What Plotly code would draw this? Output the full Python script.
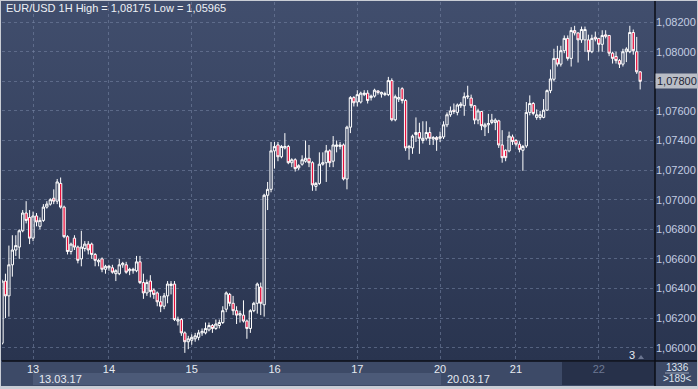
import base64
import plotly.graph_objects as go

# ---------------- data ----------------
opens = [
    1.0603, 1.0645, 1.0635, 1.0656, 1.0666, 1.0668, 1.0679, 1.0691, 1.0688, 1.0674,
    1.0689, 1.0682, 1.0686, 1.0695, 1.0697, 1.0701, 1.0699, 1.0711, 1.0695, 1.0675,
    1.0665, 1.0674, 1.0668, 1.0660, 1.0667, 1.0670, 1.0670, 1.0663, 1.0658, 1.0660,
    1.0653, 1.0654, 1.0654, 1.0650, 1.0650, 1.0656, 1.0656, 1.0652, 1.0652, 1.0652,
    1.0658, 1.0644, 1.0637, 1.0645, 1.0639, 1.0637, 1.0631, 1.0628, 1.0635, 1.0642,
    1.0643, 1.0618, 1.0619, 1.0610, 1.0604, 1.0605, 1.0606, 1.0607, 1.0610, 1.0610,
    1.0612, 1.0615, 1.0613, 1.0615, 1.0617, 1.0626, 1.0636, 1.0630, 1.0625, 1.0622,
    1.0622, 1.0618, 1.0613, 1.0625, 1.0630, 1.0641, 1.0629, 1.0703, 1.0707, 1.0733,
    1.0737, 1.0729, 1.0735, 1.0736, 1.0725, 1.0727, 1.07215, 1.0724, 1.0726, 1.0728,
    1.0725, 1.0709, 1.0711, 1.0724, 1.0725, 1.0733, 1.0726, 1.0736, 1.0736, 1.0737,
    1.0714, 1.0749, 1.0769, 1.0766, 1.0766, 1.0771, 1.0772, 1.0769, 1.0770, 1.07735,
    1.07714, 1.0771, 1.0771, 1.07805, 1.0754, 1.0768, 1.0775, 1.0767, 1.0735, 1.0735,
    1.0744, 1.07454, 1.0740, 1.07415, 1.07454, 1.0741, 1.0742, 1.07415, 1.07424, 1.07506,
    1.07574, 1.07605, 1.0759, 1.07635, 1.07635, 1.07695, 1.07687, 1.07635, 1.07538, 1.07596,
    1.07492, 1.07506, 1.07522, 1.07522, 1.07533, 1.0737, 1.07334, 1.0733, 1.07424, 1.0740,
    1.07375, 1.07334, 1.07363, 1.0759, 1.0765, 1.07556, 1.07556, 1.07556, 1.07605, 1.07737,
    1.07814, 1.07955, 1.07916, 1.08007, 1.0809, 1.07955, 1.08143, 1.08127, 1.0808, 1.0808,
    1.0808, 1.0800, 1.08098, 1.0809, 1.0805, 1.08114, 1.0811, 1.0799, 1.07968, 1.0794,
    1.07916, 1.0800, 1.0800, 1.0813, 1.0800, 1.07864,
]
highs = [
    1.0646, 1.0650, 1.0669, 1.0676, 1.0676, 1.0680, 1.0693, 1.0699, 1.0693, 1.0692,
    1.0691, 1.0688, 1.0697, 1.0699, 1.0701, 1.0707, 1.0714, 1.0715, 1.0696, 1.0676,
    1.0671, 1.0676, 1.0669, 1.0679, 1.0672, 1.0672, 1.0671, 1.0664, 1.0660, 1.0661,
    1.0656, 1.0656, 1.0656, 1.0653, 1.0660, 1.0658, 1.0658, 1.0654, 1.0654, 1.0662,
    1.0662, 1.0650, 1.0646, 1.0649, 1.0640, 1.0638, 1.0635, 1.0637, 1.0645, 1.0645,
    1.0645, 1.0621, 1.0620, 1.0611, 1.0608, 1.0609, 1.0610, 1.0612, 1.0613, 1.0617,
    1.0617, 1.0616, 1.0619, 1.0619, 1.0628, 1.0638, 1.0637, 1.0635, 1.0628, 1.0625,
    1.0632, 1.0619, 1.0626, 1.0631, 1.0644, 1.0644, 1.0704, 1.0712, 1.0739, 1.0739,
    1.0739, 1.0737, 1.0745, 1.0737, 1.0728, 1.0728, 1.0724, 1.0730, 1.0740, 1.0737,
    1.0726, 1.0712, 1.0732, 1.0732, 1.0737, 1.0734, 1.0743, 1.0740, 1.0739, 1.0738,
    1.0750, 1.0770, 1.0770, 1.0774, 1.0773, 1.0774, 1.0774, 1.0771, 1.0775, 1.0774,
    1.0773, 1.0773, 1.0783, 1.0782, 1.0771, 1.0776, 1.0776, 1.0768, 1.0737, 1.0744,
    1.07556, 1.0752, 1.0753, 1.0753, 1.0749, 1.0743, 1.0743, 1.0746, 1.0753, 1.0759,
    1.0763, 1.0765, 1.0765, 1.0766, 1.07725, 1.0777, 1.0771, 1.0764, 1.07615, 1.0760,
    1.0752, 1.0758, 1.0758, 1.0755, 1.0754, 1.0747, 1.0734, 1.0746, 1.0744, 1.0741,
    1.07395, 1.0737, 1.0766, 1.07705, 1.0766, 1.0761, 1.0760, 1.0768, 1.07745, 1.0788,
    1.0802, 1.0804, 1.0804, 1.0811, 1.0811, 1.08166, 1.08175, 1.0813, 1.0817, 1.0817,
    1.08115, 1.08115, 1.08136, 1.0809, 1.08145, 1.08145, 1.0811, 1.0800, 1.0800, 1.0795,
    1.0802, 1.0803, 1.08175, 1.0815, 1.0810, 1.0787,
]
lows = [
    1.0602, 1.0620, 1.0621, 1.0648, 1.0662, 1.0660, 1.0678, 1.0684, 1.0670, 1.0672,
    1.0682, 1.0680, 1.0685, 1.0694, 1.0696, 1.0697, 1.0697, 1.0694, 1.0674, 1.0663,
    1.0663, 1.0666, 1.0657, 1.0655, 1.0665, 1.0663, 1.0660, 1.0655, 1.0655, 1.0651,
    1.0650, 1.0652, 1.0650, 1.0645, 1.0649, 1.0654, 1.0650, 1.0649, 1.0650, 1.0651,
    1.0643, 1.0633, 1.0635, 1.0634, 1.0633, 1.0628, 1.0624, 1.0626, 1.0630, 1.0636,
    1.0618, 1.0615, 1.0608, 1.05965, 1.0599, 1.0602, 1.0604, 1.0605, 1.0608, 1.0609,
    1.0611, 1.0610, 1.0612, 1.0613, 1.0616, 1.0624, 1.0628, 1.0622, 1.0616, 1.0617,
    1.0617, 1.0606, 1.0610, 1.0624, 1.0623, 1.0622, 1.0621, 1.0693, 1.0705, 1.0721,
    1.0726, 1.0728, 1.0734, 1.0724, 1.0722, 1.0719, 1.0720, 1.0723, 1.0725, 1.0722,
    1.0706, 1.0706, 1.0710, 1.0723, 1.0712, 1.0722, 1.0722, 1.0732, 1.0734, 1.0713,
    1.0707, 1.0745, 1.0763, 1.0763, 1.0765, 1.0770, 1.0765, 1.0767, 1.0769, 1.0771,
    1.0769, 1.0770, 1.0770, 1.0753, 1.0753, 1.0766, 1.0765, 1.0733, 1.0727, 1.0731,
    1.0739, 1.0731, 1.0738, 1.0740, 1.0737, 1.0737, 1.0733, 1.0739, 1.0741, 1.0749,
    1.0756, 1.0758, 1.0757, 1.0762, 1.07567, 1.0768, 1.0762, 1.0751, 1.0751, 1.0747,
    1.0743, 1.0745, 1.0751, 1.0747, 1.0735, 1.0725, 1.0726, 1.0732, 1.0737, 1.0736,
    1.0732, 1.07195, 1.0735, 1.0757, 1.0757, 1.0754, 1.0754, 1.0755, 1.0760, 1.0772,
    1.0780, 1.0790, 1.0790, 1.0799, 1.0794, 1.0790, 1.0811, 1.07927, 1.0806, 1.0800,
    1.0794, 1.0799, 1.0807, 1.0800, 1.0800, 1.0809, 1.0797, 1.0792, 1.0792, 1.0789,
    1.0790, 1.0793, 1.0799, 1.0798, 1.0785, 1.07745,
]
closes = [
    1.0645, 1.0635, 1.0656, 1.0666, 1.0669, 1.0679, 1.0691, 1.0686, 1.0674, 1.0689,
    1.0685, 1.0686, 1.0695, 1.0697, 1.0700, 1.0699, 1.0712, 1.0695, 1.0675, 1.0665,
    1.0670, 1.0668, 1.0659, 1.0668, 1.0670, 1.0666, 1.0663, 1.0659, 1.0659, 1.0653,
    1.0655, 1.0655, 1.0651, 1.0652, 1.0656, 1.0657, 1.0651, 1.0653, 1.0653, 1.0658,
    1.0644, 1.0637, 1.0644, 1.0638, 1.0636, 1.0631, 1.0628, 1.0635, 1.0643, 1.0643,
    1.0619, 1.0619, 1.0610, 1.0604, 1.0606, 1.0607, 1.0608, 1.0610, 1.0611, 1.0613,
    1.0615, 1.0613, 1.0616, 1.0617, 1.0625, 1.0637, 1.0630, 1.0625, 1.0622, 1.0623,
    1.0618, 1.0613, 1.0625, 1.0630, 1.0643, 1.0630, 1.0703, 1.0707, 1.0733, 1.0736,
    1.0729, 1.0736, 1.0736, 1.0725, 1.0727, 1.0721, 1.0723, 1.0727, 1.0728, 1.0725,
    1.0710, 1.0711, 1.0724, 1.0725, 1.0733, 1.0725, 1.0737, 1.0737, 1.0737, 1.0714,
    1.0749, 1.0769, 1.07655, 1.0771, 1.0772, 1.0772, 1.0767, 1.0770, 1.0774, 1.07725,
    1.07725, 1.07716, 1.07805, 1.0754, 1.07696, 1.0769, 1.0767, 1.0735, 1.0736, 1.0743,
    1.07454, 1.07415, 1.07415, 1.07454, 1.07415, 1.0742, 1.07406, 1.07425, 1.07506, 1.07574,
    1.0760, 1.07596, 1.0764, 1.07646, 1.07696, 1.0770, 1.07635, 1.07538, 1.0760, 1.0750,
    1.07506, 1.07515, 1.07538, 1.07538, 1.0737, 1.07284, 1.07284, 1.0743, 1.07393, 1.07375,
    1.0734, 1.0736, 1.0759, 1.0765, 1.07583, 1.07574, 1.07574, 1.07605, 1.07737, 1.07816,
    1.07955, 1.07916, 1.08007, 1.0809, 1.07955, 1.08143, 1.08127, 1.0808, 1.0815, 1.0815,
    1.0800, 1.0809, 1.08086, 1.0805, 1.0811, 1.08105, 1.0799, 1.07955, 1.0794, 1.07916,
    1.0800, 1.08018, 1.0813, 1.08007, 1.07864, 1.0780,
]
bar_index = list(range(len(closes)))

# first bar of each trading day and its label
day_start_bars = [9, 31, 55, 79, 103, 127, 149, 173]
day_labels = ["13", "14", "15", "16", "17", "20", "21", "22"]
week_labels = ["13.03.17", "20.03.17"]
price_ticks = [1.060, 1.062, 1.064, 1.066, 1.068, 1.070, 1.072, 1.074, 1.076, 1.078, 1.080, 1.082]
title_text = "EUR/USD 1H High = 1,08175 Low = 1,05965"
last_price = 1.0780
last_price_text = "1,07800"
bars_total_text = "1336"
bars_visible_text = ">189<"

# ---------------- geometry helpers (pixels -> paper) ----------------
W, H = 698, 389
PL, PR, PT, PB = 2, 655, 2, 361
def px(x):
    return (x - PL) / (PR - PL)
def py(y):
    return (PB - y) / (PB - PT)

svg = ('<svg xmlns="http://www.w3.org/2000/svg" width="10" height="100" preserveAspectRatio="none">'
       '<defs><linearGradient id="g" x1="0" y1="0" x2="0" y2="1">'
       '<stop offset="0" stop-color="#414e6d"/><stop offset="1" stop-color="#29344f"/>'
       '</linearGradient></defs><rect width="10" height="100" fill="url(#g)"/></svg>')
svg_uri = "data:image/svg+xml;base64," + base64.b64encode(svg.encode()).decode()

fig = go.Figure()
fig.add_trace(go.Candlestick(
    x=bar_index, open=opens, high=highs, low=lows, close=closes,
    increasing=dict(line=dict(color="#ffffff", width=1), fillcolor="rgba(0,0,0,0)"),
    decreasing=dict(line=dict(color="#ffffff", width=1), fillcolor="#e8103c"),
    whiskerwidth=0, hoverinfo="skip", showlegend=False,
))

ticktext = [t if t != "22" else '<span style="color:#6d7893">22</span>' for t in day_labels]

grid = "rgba(120,135,165,0.55)"
fig.update_layout(
    width=W, height=H,
    margin=dict(l=PL, r=W - PR, t=PT, b=H - PB),
    paper_bgcolor="#c9cdd5",
    plot_bgcolor="rgba(0,0,0,0)",
    separators=", ",
    boxgap=0.05,
    font=dict(family="Liberation Sans, Arial, sans-serif", size=11, color="#e6eaf2"),
    showlegend=False,
    xaxis=dict(
        range=[0, 189.3], rangeslider=dict(visible=False),
        tickmode="array", tickvals=day_start_bars, ticktext=ticktext,
        showgrid=True, gridcolor=grid, griddash="3px,3px", gridwidth=1,
        zeroline=False, showline=False, ticks="",
        tickfont=dict(size=11, color="#e6eaf2"),
    ),
    yaxis=dict(
        range=[1.0591, 1.08336], side="right",
        tickmode="array", tickvals=price_ticks, tickformat=".5f",
        showgrid=True, gridcolor=grid, griddash="3px,3px", gridwidth=1,
        zeroline=False, showline=False, ticks="",
        tickfont=dict(size=11, color="#c3cde2"),
    ),
    images=[dict(source=svg_uri, xref="paper", yref="paper",
                 x=px(1), y=py(1), sizex=px(697) - px(1), sizey=py(1) - py(361),
                 sizing="stretch", layer="below", xanchor="left", yanchor="top")],
)

shapes = []
# bottom time strip
shapes.append(dict(type="rect", xref="paper", yref="paper", x0=px(1), x1=px(697), y0=py(386), y1=py(361),
                   fillcolor="#3d4a67", line=dict(width=0), layer="below"))
shapes.append(dict(type="rect", xref="paper", yref="paper", x0=px(33), x1=px(441), y0=py(385), y1=py(373),
                   fillcolor="#4c5a78", line=dict(width=0), layer="below"))
shapes.append(dict(type="rect", xref="paper", yref="paper", x0=px(562), x1=px(655), y0=py(385), y1=py(362),
                   fillcolor="#27314a", line=dict(width=0), layer="below"))
# separators
shapes.append(dict(type="line", xref="paper", yref="paper", x0=px(655), x1=px(655), y0=py(386), y1=py(1),
                   line=dict(color="#0b0e16", width=1.5)))
shapes.append(dict(type="line", xref="paper", yref="paper", x0=px(2), x1=px(697), y0=py(361), y1=py(361),
                   line=dict(color="#0b0e16", width=1.5)))
# underline in counter box
shapes.append(dict(type="line", xref="paper", yref="paper", x0=px(665), x1=px(689), y0=py(373), y1=py(373),
                   line=dict(color="#9aa4b8", width=1)))
# last price arrow
dy = 0.00022
shapes.append(dict(type="path", xref="paper", yref="y",
                   path=f"M {px(655.5)},{last_price} L {px(659)},{last_price + dy} L {px(659)},{last_price - dy} Z",
                   fillcolor="#b9bdc6", line=dict(width=0)))
# small marker near "3"
shapes.append(dict(type="path", xref="paper", yref="paper",
                   path=f"M {px(638)},{py(359)} L {px(644)},{py(359)} L {px(641)},{py(355)} Z",
                   fillcolor="#6b7590", line=dict(width=0)))
fig.update_layout(shapes=shapes)

ann = []
ann.append(dict(text=title_text, xref="paper", yref="paper", x=px(4), y=py(8),
                xanchor="left", yanchor="middle", showarrow=False,
                font=dict(size=11, color="#eef1f6")))
ann.append(dict(text=week_labels[0], xref="paper", yref="paper", x=px(37), y=py(379),
                xanchor="left", yanchor="middle", showarrow=False, font=dict(size=11, color="#e6eaf2")))
ann.append(dict(text=week_labels[1], xref="paper", yref="paper", x=px(445), y=py(379),
                xanchor="left", yanchor="middle", showarrow=False, font=dict(size=11, color="#e6eaf2")))
ann.append(dict(text=bars_total_text, xref="paper", yref="paper", x=px(677), y=py(367),
                xanchor="center", yanchor="middle", showarrow=False, font=dict(size=10, color="#dfe4ee")))
ann.append(dict(text=bars_visible_text, xref="paper", yref="paper", x=px(677), y=py(379),
                xanchor="center", yanchor="middle", showarrow=False, font=dict(size=10, color="#dfe4ee")))
ann.append(dict(text=last_price_text, xref="paper", yref="y", x=px(677), y=last_price,
                xanchor="center", yanchor="middle", showarrow=False, bgcolor="#b9bdc6",
                borderpad=1, font=dict(size=11, color="#1d2435")))
ann.append(dict(text="3", xref="paper", yref="paper", x=px(632), y=py(355),
                xanchor="center", yanchor="middle", showarrow=False, font=dict(size=11, color="#e6eaf2")))
fig.update_layout(annotations=ann)

fig.write_html("out.html",
               config={"displayModeBar": False},
               post_script="document.body.style.margin='0';document.body.style.overflow='hidden';")
